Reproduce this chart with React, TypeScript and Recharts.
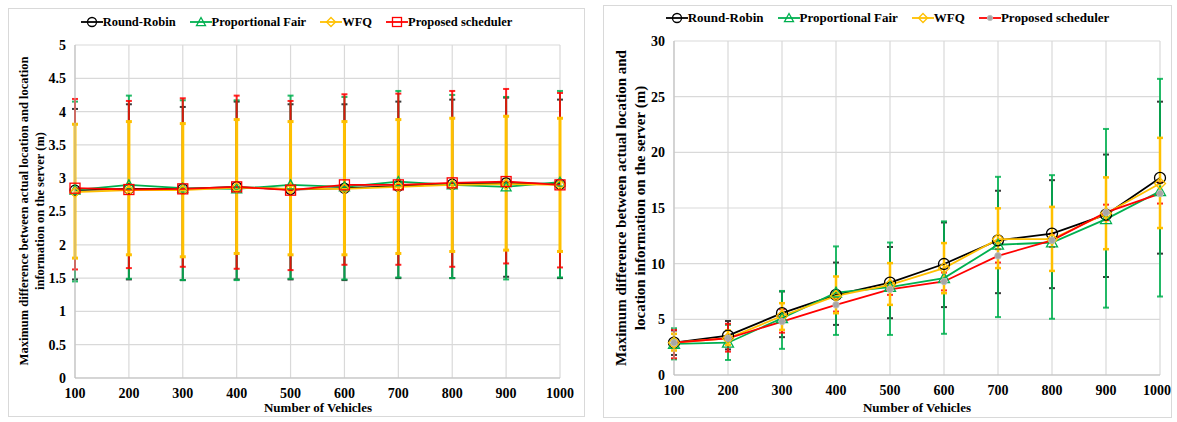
import React from "react";
import { LineChart, Line, XAxis, YAxis, CartesianGrid, ErrorBar } from "recharts";

const vehicles = [100, 200, 300, 400, 500, 600, 700, 800, 900, 1000];

// Left panel: maximum location difference (m), mean with low/high bounds
const leftRrMean = [2.82, 2.84, 2.84, 2.87, 2.83, 2.85, 2.88, 2.91, 2.93, 2.91];
const leftRrLow = [1.48, 1.48, 1.47, 1.48, 1.48, 1.47, 1.5, 1.5, 1.52, 1.5];
const leftRrHigh = [4.04, 4.11, 4.07, 4.15, 4.11, 4.11, 4.15, 4.18, 4.21, 4.18];

const leftPfMean = [2.82, 2.9, 2.85, 2.84, 2.9, 2.87, 2.95, 2.9, 2.87, 2.94];
const leftPfLow = [1.45, 1.49, 1.47, 1.47, 1.49, 1.48, 1.51, 1.5, 1.48, 1.51];
const leftPfHigh = [4.15, 4.24, 4.17, 4.17, 4.24, 4.22, 4.31, 4.25, 4.22, 4.31];

const leftWfqMean = [2.79, 2.82, 2.82, 2.86, 2.84, 2.84, 2.87, 2.9, 2.91, 2.9];
const leftWfqLow = [1.8, 1.85, 1.82, 1.87, 1.85, 1.85, 1.87, 1.9, 1.92, 1.9];
const leftWfqHigh = [3.81, 3.85, 3.82, 3.88, 3.85, 3.85, 3.88, 3.9, 3.93, 3.9];

const leftPsMean = [2.85, 2.83, 2.84, 2.87, 2.82, 2.9, 2.9, 2.93, 2.95, 2.9];
const leftPsLow = [1.63, 1.65, 1.67, 1.64, 1.62, 1.7, 1.7, 1.67, 1.72, 1.66];
const leftPsHigh = [4.19, 4.16, 4.2, 4.24, 4.16, 4.26, 4.27, 4.31, 4.34, 4.28];

// Right panel
const rightRrMean = [2.9, 3.54, 5.55, 7.2, 8.3, 9.97, 12.1, 12.7, 14.4, 17.7];
const rightRrLow = [1.8, 2.3, 3.4, 4.5, 5.1, 6.1, 7.35, 7.8, 8.8, 10.9];
const rightRrHigh = [4.0, 4.85, 7.5, 10.1, 11.5, 13.7, 16.55, 17.5, 19.8, 24.55];

const rightPfMean = [2.8, 2.9, 5.1, 7.4, 7.9, 8.7, 11.7, 11.9, 14.0, 16.5];
const rightPfLow = [1.4, 1.35, 2.35, 3.6, 3.6, 3.7, 5.2, 5.05, 6.05, 7.05];
const rightPfHigh = [4.2, 4.5, 7.55, 11.55, 11.9, 13.8, 17.8, 17.95, 22.1, 26.6];

const rightWfqMean = [2.9, 3.3, 5.3, 7.1, 8.1, 9.6, 12.2, 12.2, 14.5, 17.2];
const rightWfqLow = [2.2, 2.7, 4.05, 5.55, 6.3, 7.35, 9.6, 9.35, 11.3, 13.2];
const rightWfqHigh = [3.7, 4.0, 6.45, 8.85, 10.05, 11.85, 14.97, 15.1, 17.75, 21.3];

const rightPsMean = [2.9, 3.3, 4.8, 6.3, 7.7, 8.4, 10.7, 12.1, 14.6, 16.3];
const rightPsLow = [1.5, 2.1, 3.8, 5.7, 7.2, 7.6, 10.1, 11.5, 13.9, 15.4];
const rightPsHigh = [4.05, 4.6, 5.9, 6.9, 8.2, 9.2, 11.3, 12.7, 15.3, 17.3];

const leftTicks = [0, 0.5, 1, 1.5, 2, 2.5, 3, 3.5, 4, 4.5, 5];
const rightTicks = [0, 5, 10, 15, 20, 25, 30];

const seriesNames = ["Round-Robin", "Proportional Fair", "WFQ", "Proposed scheduler"];
const keys = ["rr", "pf", "wfq", "ps"];
const colors = ["#000000", "#00B050", "#FFC000", "#FF0000"];

const FONT = '"Liberation Serif", "Times New Roman", serif';

type Band = [number[], number[], number[]];

function buildRows(bands: Band[]) {
  return vehicles.map((n, i) => {
    const row: Record<string, number | number[]> = { n };
    bands.forEach(([mean, low, high], s) => {
      row[keys[s]] = mean[i];
      row[keys[s] + "Err"] = [mean[i] - low[i], high[i] - mean[i]];
    });
    return row;
  });
}

const leftRows = buildRows([
  [leftRrMean, leftRrLow, leftRrHigh],
  [leftPfMean, leftPfLow, leftPfHigh],
  [leftWfqMean, leftWfqLow, leftWfqHigh],
  [leftPsMean, leftPsLow, leftPsHigh],
]);

const rightRows = buildRows([
  [rightRrMean, rightRrLow, rightRrHigh],
  [rightPfMean, rightPfLow, rightPfHigh],
  [rightWfqMean, rightWfqLow, rightWfqHigh],
  [rightPsMean, rightPsLow, rightPsHigh],
]);

type Shape = "circle" | "triangle" | "diamond" | "square" | "dot";

function Marker({ shape, x, y, color, size }: { shape: Shape; x: number; y: number; color: string; size: number }) {
  const h = size / 2;
  if (shape === "circle") return <circle cx={x} cy={y} r={h} fill="none" stroke={color} strokeWidth={1.3} />;
  if (shape === "triangle")
    return <polygon points={`${x},${y - h} ${x + h},${y + h * 0.8} ${x - h},${y + h * 0.8}`} fill="none" stroke={color} strokeWidth={1.3} />;
  if (shape === "diamond")
    return <polygon points={`${x},${y - h} ${x + h},${y} ${x},${y + h} ${x - h},${y}`} fill="none" stroke={color} strokeWidth={1.3} />;
  if (shape === "square") return <rect x={x - h} y={y - h} width={size} height={size} fill="none" stroke={color} strokeWidth={1.3} />;
  return <circle cx={x} cy={y} r={h * 0.6} fill="#A6A6A6" stroke="#BFBFBF" strokeWidth={0.8} />;
}

const dotFor = (shape: Shape, color: string, size: number) => (p: any) =>
  p.cx == null ? <g key={p.index} /> : <Marker key={p.index} shape={shape} x={p.cx} y={p.cy} color={color} size={size} />;

function Legend({ shapes, fontSize, left, top, width }: { shapes: Shape[]; fontSize: number; left: number; top: number; width: number }) {
  return (
    <div
      style={{
        position: "absolute",
        left,
        top,
        width,
        display: "flex",
        justifyContent: "center",
        gap: 14,
        fontFamily: FONT,
        fontWeight: "bold",
        fontSize,
        lineHeight: "16px",
        color: "#000",
      }}
    >
      {seriesNames.map((name, i) => (
        <div key={name} style={{ display: "flex", alignItems: "center" }}>
          <svg width={22} height={12}>
            <line x1={0} y1={6} x2={22} y2={6} stroke={colors[i]} strokeWidth={1.8} />
            <Marker shape={shapes[i]} x={11} y={6} color={colors[i]} size={9} />
          </svg>
          <span>{name}</span>
        </div>
      ))}
    </div>
  );
}

function YTitle({ lines, cx, cy, fontSize, lineHeight }: { lines: string[]; cx: number; cy: number; fontSize: number; lineHeight: number }) {
  const w = 420;
  const h = lines.length * lineHeight;
  return (
    <div
      style={{
        position: "absolute",
        left: cx - w / 2,
        top: cy - h / 2,
        width: w,
        height: h,
        transform: "rotate(-90deg)",
        textAlign: "center",
        fontFamily: FONT,
        fontWeight: "bold",
        fontSize,
        lineHeight: `${lineHeight}px`,
        whiteSpace: "nowrap",
      }}
    >
      {lines.map((l) => (
        <div key={l}>{l}</div>
      ))}
    </div>
  );
}

function XTitle({ cx, top }: { cx: number; top: number }) {
  return (
    <div
      style={{
        position: "absolute",
        left: cx - 100,
        top,
        width: 200,
        textAlign: "center",
        fontFamily: FONT,
        fontWeight: "bold",
        fontSize: 13,
        lineHeight: "16px",
      }}
    >
      Number of Vehicles
    </div>
  );
}

// error bars go first so every series line sits above them; WFQ bars on top
const barOrder = [0, 1, 3, 2];

function Panel({
  rows,
  width,
  height,
  margin,
  yWidth,
  xHeight,
  domain,
  ticks,
  shapes,
  markerSize,
  barWidths,
}: {
  rows: Record<string, number | number[]>[];
  width: number;
  height: number;
  margin: { top: number; right: number; left: number; bottom: number };
  yWidth: number;
  xHeight: number;
  domain: [number, number];
  ticks: number[];
  shapes: Shape[];
  markerSize: number;
  barWidths: number[];
}) {
  const tick = { fontFamily: FONT, fontWeight: "bold", fontSize: 14, fill: "#000" };
  const barColors = ["#3A3A3A", "#00B050", "#FFC000", "#FF0000"];
  const barOpacity = [1, 0.85, 1, 0.85];
  return (
    <LineChart width={width} height={height} data={rows} margin={margin}>
      <CartesianGrid stroke="#D9D9D9" strokeWidth={1.2} />
      <XAxis
        dataKey="n"
        type="number"
        domain={[100, 1000]}
        ticks={vehicles}
        height={xHeight}
        tickLine={false}
        tickSize={0}
        tickMargin={10}
        axisLine={{ stroke: "#BFBFBF" }}
        tick={tick}
      />
      <YAxis
        type="number"
        domain={domain}
        ticks={ticks}
        width={yWidth}
        tickLine={false}
        tickSize={0}
        tickMargin={9}
        axisLine={{ stroke: "#BFBFBF" }}
        tick={tick}
      />
      {barOrder.map((s) => (
        <Line
          key={"err-" + keys[s]}
          dataKey={keys[s]}
          stroke="none"
          dot={false}
          activeDot={false}
          legendType="none"
          isAnimationActive={false}
        >
          <ErrorBar
            dataKey={keys[s] + "Err"}
            direction="y"
            width={3}
            strokeWidth={barWidths[s]}
            stroke={barColors[s]}
            strokeOpacity={barOpacity[s]}
          />
        </Line>
      ))}
      {keys.map((k, s) => (
        <Line
          key={k}
          dataKey={k}
          stroke={colors[s]}
          strokeWidth={1.8}
          dot={dotFor(shapes[s], shapes[s] === "dot" ? "#A6A6A6" : colors[s], markerSize)}
          activeDot={false}
          isAnimationActive={false}
        />
      ))}
    </LineChart>
  );
}

export default function App() {
  const frame = { position: "absolute" as const, border: "1px solid #D9D9D9", boxSizing: "border-box" as const, background: "#fff" };
  return (
    <div style={{ position: "relative", width: 1177, height: 422, background: "#fff", overflow: "hidden" }}>
      <style>{`body{margin:0}`}</style>

      <div style={{ ...frame, left: 8, top: 8, width: 577, height: 409 }}>
        <Panel
          rows={leftRows}
          width={575}
          height={407}
          margin={{ top: 36, right: 24, left: 0, bottom: 0 }}
          yWidth={66}
          xHeight={38}
          domain={[0, 5]}
          ticks={leftTicks}
          shapes={["circle", "triangle", "diamond", "square"]}
          markerSize={10}
          barWidths={[2, 2, 3, 2]}
        />
      </div>
      <Legend shapes={["circle", "triangle", "diamond", "square"]} fontSize={12.5} left={8} top={14} width={577} />
      <YTitle
        lines={["Maximum difference between actual location and location", "information on the server (m)"]}
        cx={32}
        cy={211}
        fontSize={12.5}
        lineHeight={16}
      />
      <XTitle cx={318} top={400} />

      <div style={{ ...frame, left: 603, top: 5, width: 569, height: 413 }}>
        <Panel
          rows={rightRows}
          width={567}
          height={411}
          margin={{ top: 35, right: 11, left: 0, bottom: 0 }}
          yWidth={70}
          xHeight={42}
          domain={[0, 30]}
          ticks={rightTicks}
          shapes={["circle", "triangle", "diamond", "dot"]}
          markerSize={11}
          barWidths={[2, 2, 2.5, 2]}
        />
      </div>
      <Legend shapes={["circle", "triangle", "diamond", "dot"]} fontSize={13} left={603} top={10} width={569} />
      <YTitle
        lines={["Maximum difference between actual location and", "location information on the server (m)"]}
        cx={631}
        cy={208}
        fontSize={15}
        lineHeight={19}
      />
      <XTitle cx={917} top={400} />
    </div>
  );
}
